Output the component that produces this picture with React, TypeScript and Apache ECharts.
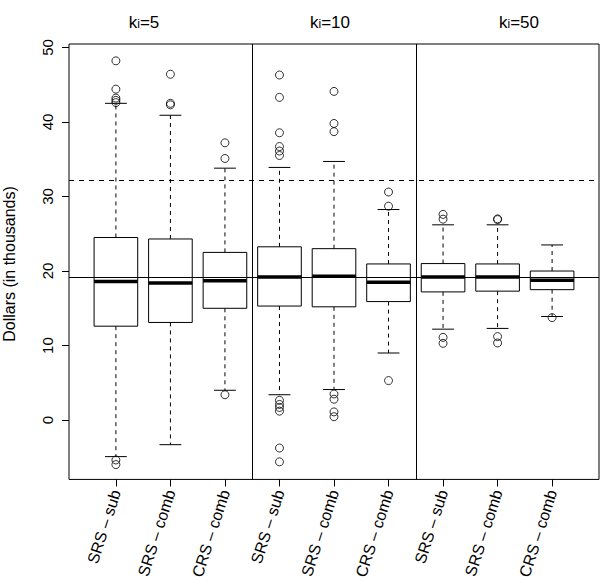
import React, { useEffect, useRef } from "react";
import * as echarts from "echarts";

// ---- data ----
const categories = [
  "SRS – sub", "SRS – comb", "CRS – comb",
  "SRS – sub", "SRS – comb", "CRS – comb",
  "SRS – sub", "SRS – comb", "CRS – comb",
];
const panelK = ["5", "10", "50"];
const panelTitleX = [144, 330, 519];
const yTicks = [0, 10, 20, 30, 40, 50];

const lowerWhisker = [-4.9, -3.3, 4.0, 3.4, 4.1, 9.0, 12.2, 12.3, 13.9];
const q1 = [12.6, 13.1, 15.0, 15.3, 15.2, 15.9, 17.2, 17.3, 17.5];
const median = [18.6, 18.4, 18.7, 19.2, 19.3, 18.5, 19.2, 19.2, 18.75];
const q3 = [24.5, 24.3, 22.5, 23.25, 23.0, 20.95, 21.0, 20.95, 20.0];
const upperWhisker = [42.5, 40.9, 33.8, 33.9, 34.7, 28.25, 26.2, 26.2, 23.5];
const outliers = [
  [48.2, 44.4, 43.2, 42.9, 42.6, -5.35, -5.97],
  [46.4, 42.5, 42.3],
  [37.2, 35.1, 3.4],
  [46.3, 43.3, 38.55, 36.7, 36.1, 35.5, 2.65, 2.1, 1.7, 1.2, -3.75, -5.6],
  [44.1, 39.8, 38.7, 3.5, 2.8, 1.1, 0.45],
  [30.6, 28.7, 5.3],
  [27.6, 26.96, 11.1, 10.3],
  [26.9, 27.0, 11.2, 10.35],
  [13.75],
];
const solidRef = 19.1;
const dashedRef = 32.2;
const panelDividers = [3.5, 6.5];

const FONT = "Liberation Sans, Arial, Helvetica, sans-serif";

function measure(text: string, size: number): number {
  const c = document.createElement("canvas").getContext("2d");
  if (!c) return text.length * size * 0.55;
  c.font = size + "px " + FONT;
  return c.measureText(text).width;
}

export default function App() {
  const ref = useRef<HTMLDivElement>(null);
  useEffect(() => {
    if (!ref.current) return;
    const chart = echarts.init(ref.current, null, { renderer: "svg" });

    const boxData = categories.map((_, i) => [
      i + 1, lowerWhisker[i], q1[i], median[i], q3[i], upperWhisker[i],
    ]);
    const outlierData: number[][] = [];
    outliers.forEach((arr, i) => arr.forEach((v) => outlierData.push([i + 1, v])));

    const halfW = 0.4;
    const capW = 0.2;

    const titleSize = 17;
    const subSize = 12;
    const titleBase = 14;
    const titles: any[] = [];
    panelK.forEach((k, i) => {
      const wk = measure("k", titleSize);
      const wi = measure("i", subSize);
      const wr = measure("=" + k, titleSize);
      const left = panelTitleX[i] - (wk + wi + wr) / 2;
      const common = { fill: "#000", fontFamily: FONT, verticalAlign: "alphabetic", align: "left" };
      titles.push(
        { type: "text", x: left, y: titleBase, style: { ...common, text: "k", fontSize: titleSize } },
        { type: "text", x: left + wk, y: titleBase + 4, style: { ...common, text: "i", fontSize: subSize } },
        { type: "text", x: left + wk + wi, y: titleBase, style: { ...common, text: "=" + k, fontSize: titleSize } },
      );
    });

    const option: any = {
      animation: false,
      backgroundColor: "#fff",
      grid: {
        left: 69, right: 2, top: 44, bottom: 98,
        show: true, borderColor: "#000", borderWidth: 1,
        backgroundColor: "transparent",
      },
      xAxis: {
        type: "value",
        min: 0.14,
        max: 9.86,
        splitLine: { show: false },
        axisLine: { show: false, onZero: false },
        axisTick: {
          show: true, length: 7, customValues: [1, 2, 3, 4, 5, 6, 7, 8, 9],
          lineStyle: { color: "#000", width: 1 },
        },
        axisLabel: {
          show: true,
          customValues: [1, 2, 3, 4, 5, 6, 7, 8, 9],
          formatter: (v: number) => categories[Math.round(v) - 1],
          rotate: 72,
          margin: 11,
          color: "#000",
          fontSize: 16,
          fontFamily: FONT,
        },
      },
      yAxis: {
        type: "value",
        min: -7.96,
        max: 50.46,
        splitLine: { show: false },
        axisLine: { show: false, onZero: false },
        axisTick: {
          show: true, length: 7, customValues: yTicks,
          lineStyle: { color: "#000", width: 1 },
        },
        axisLabel: {
          show: true,
          customValues: yTicks,
          rotate: 90,
          margin: 14,
          color: "#000",
          fontSize: 15,
          fontFamily: FONT,
        },
      },
      graphic: [
        {
          type: "text",
          x: 9,
          y: 264,
          rotation: Math.PI / 2,
          style: {
            text: "Dollars (in thousands)",
            fontSize: 16,
            fontFamily: FONT,
            fill: "#000",
            align: "center",
            verticalAlign: "middle",
          },
        },
        ...titles,
      ],
      series: [
        {
          type: "custom",
          data: boxData,
          silent: true,
          renderItem: (params: any, api: any) => {
            const x = api.value(0);
            const lw = api.value(1);
            const a = api.value(2);
            const m = api.value(3);
            const b = api.value(4);
            const uw = api.value(5);
            const tl = api.coord([x - halfW, b]);
            const br = api.coord([x + halfW, a]);
            const mL = api.coord([x - halfW, m]);
            const mR = api.coord([x + halfW, m]);
            const cTop = api.coord([x, uw]);
            const cQ3 = api.coord([x, b]);
            const cQ1 = api.coord([x, a]);
            const cBot = api.coord([x, lw]);
            const capL1 = api.coord([x - capW, uw]);
            const capR1 = api.coord([x + capW, uw]);
            const capL2 = api.coord([x - capW, lw]);
            const capR2 = api.coord([x + capW, lw]);
            const stroke = { stroke: "#000", lineWidth: 1, fill: "none" };
            return {
              type: "group",
              children: [
                {
                  type: "line",
                  shape: { x1: cQ3[0], y1: cQ3[1], x2: cTop[0], y2: cTop[1] },
                  style: { ...stroke, lineDash: [4, 4] },
                },
                {
                  type: "line",
                  shape: { x1: cQ1[0], y1: cQ1[1], x2: cBot[0], y2: cBot[1] },
                  style: { ...stroke, lineDash: [4, 4] },
                },
                {
                  type: "line",
                  shape: { x1: capL1[0], y1: capL1[1], x2: capR1[0], y2: capR1[1] },
                  style: stroke,
                },
                {
                  type: "line",
                  shape: { x1: capL2[0], y1: capL2[1], x2: capR2[0], y2: capR2[1] },
                  style: stroke,
                },
                {
                  type: "rect",
                  shape: { x: tl[0], y: tl[1], width: br[0] - tl[0], height: br[1] - tl[1] },
                  style: stroke,
                },
                {
                  type: "line",
                  shape: { x1: mL[0], y1: mL[1], x2: mR[0], y2: mR[1] },
                  style: { stroke: "#000", lineWidth: 3.5 },
                },
              ],
            };
          },
        },
        {
          type: "scatter",
          data: outlierData,
          symbol: "circle",
          symbolSize: 8,
          silent: true,
          itemStyle: { color: "rgba(0,0,0,0)", borderColor: "#000", borderWidth: 1 },
          markLine: {
            silent: true,
            symbol: "none",
            label: { show: false },
            lineStyle: { color: "#000", width: 1, type: "solid" },
            data: [
              { yAxis: solidRef },
              { yAxis: dashedRef, lineStyle: { type: [5, 5], color: "#000", width: 1 } },
              ...panelDividers.map((d) => ({ xAxis: d })),
            ],
          },
        },
      ],
    };
    chart.setOption(option);
    return () => chart.dispose();
  }, []);
  return (
    <div
      ref={ref}
      style={{ position: "absolute", left: 0, top: 0, width: 601, height: 582 }}
    />
  );
}
